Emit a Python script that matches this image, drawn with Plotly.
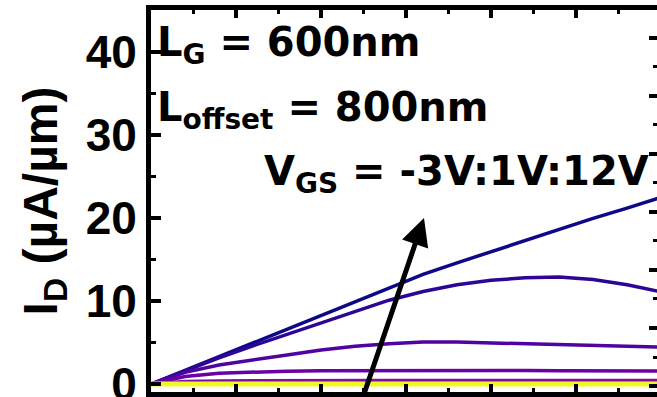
import plotly.graph_objects as go
from plotly.colors import sample_colorscale

# ---------------- data ----------------
vds = [0, 2, 4, 6, 8, 10, 12, 14, 16, 18, 20, 22, 24, 26, 28, 30]
vgs_values = list(range(-3, 13))  # -3V : 1V : 12V

id_vgs12 = [0, 1.65, 3.3, 4.95, 6.6, 8.25, 9.9, 11.6, 13.2, 14.6, 15.95, 17.3, 18.65, 19.95, 21.2, 22.5]
id_vgs11 = [0, 1.6, 3.15, 4.6, 5.95, 7.35, 8.75, 10.1, 11.15, 11.95, 12.5, 12.8, 12.9, 12.6, 11.95, 11.1]
id_vgs10 = [0, 1.4, 2.3, 2.95, 3.5, 4.1, 4.55, 4.85, 5.05, 5.05, 4.95, 4.85, 4.75, 4.6, 4.5, 4.45]
id_vgs9 = [0, 0.9, 1.3, 1.45, 1.55, 1.6, 1.62, 1.63, 1.63, 1.63, 1.62, 1.62, 1.61, 1.6, 1.6, 1.58]
id_vgs8 = [0, 0.3, 0.38, 0.41, 0.42, 0.43, 0.43, 0.43, 0.43, 0.43, 0.43, 0.43, 0.43, 0.43, 0.43, 0.43]
id_vgs7 = [0, 0.06, 0.08, 0.09, 0.09, 0.09, 0.09, 0.09, 0.09, 0.09, 0.09, 0.09, 0.09, 0.09, 0.09, 0.09]
id_vgs6 = [0, 0.01, 0.015, 0.02, 0.02, 0.02, 0.02, 0.02, 0.02, 0.02, 0.02, 0.02, 0.02, 0.02, 0.02, 0.02]
id_low = [0] * 16  # VGS = -3 ... 5 : essentially zero current

currents = {
    12: id_vgs12, 11: id_vgs11, 10: id_vgs10, 9: id_vgs9, 8: id_vgs8,
    7: id_vgs7, 6: id_vgs6,
}

colors = sample_colorscale("Plasma", [i / 15 for i in range(16)])  # index 0 -> VGS=12

fig = go.Figure()
for k, vg in enumerate(sorted(vgs_values, reverse=True)):
    y = currents.get(vg, id_low)
    fig.add_trace(go.Scatter(
        x=vds, y=y, mode="lines",
        line=dict(color=colors[k], width=5 if vg == -3 else 3.5),
        showlegend=False, hoverinfo="skip",
    ))

# invisible trace so the right-side mirrored axis is drawn
fig.add_trace(go.Scatter(x=[None], y=[None], yaxis="y2", mode="lines",
                         showlegend=False, hoverinfo="skip"))

W, H = 657, 397
L, R, T, B = 151, 0, 10, 5
pw, ph = W - L - R, H - T - B


def px(xp):
    return (xp - L) / pw


def py(yp):
    return (H - B - yp) / ph


bold_tick = dict(family="Liberation Sans, Arial", size=46, color="black", weight="bold")
bold_title = dict(family="Liberation Sans, Arial", size=48, color="black", weight="bold")
ann_font = dict(family="DejaVu Sans", size=40, color="black", weight="bold")

fig.update_layout(
    width=W, height=H,
    margin=dict(l=L, r=R, t=T, b=B, pad=0, autoexpand=False),
    paper_bgcolor="white", plot_bgcolor="white",
    showlegend=False,
    xaxis=dict(
        range=[0, 29.76], showgrid=False, zeroline=False, automargin=False,
        showline=True, linewidth=5, linecolor="black", mirror="ticks",
        ticks="inside", ticklen=8, tickwidth=4, tickcolor="black",
        tick0=0, dtick=5, showticklabels=False,
        minor=dict(ticks="inside", ticklen=4, tickwidth=3, tickcolor="black", dtick=2.5, showgrid=False),
    ),
    yaxis=dict(
        range=[-0.96, 45.06], showgrid=False, zeroline=False, automargin=False,
        showline=True, linewidth=5, linecolor="black",
        ticks="inside", ticklen=10, tickwidth=4, tickcolor="black",
        tick0=0, dtick=10, tickfont=bold_tick, ticklabeloverflow="allow",
        minor=dict(ticks="inside", ticklen=5, tickwidth=3, tickcolor="black", dtick=5, showgrid=False),
        title=dict(text="I<sub>D</sub> (µA/µm)", font=bold_title, standoff=14),
    ),
    yaxis2=dict(
        overlaying="y", side="right", anchor="x", automargin=False,
        range=[-0.103, 6.48], showgrid=False, zeroline=False, showline=False,
        ticks="inside", ticklen=8, tickwidth=4, tickcolor="black",
        tick0=0, dtick=1, showticklabels=False,
        minor=dict(ticks="inside", ticklen=4, tickwidth=3, tickcolor="black", dtick=0.5, showgrid=False),
    ),
    annotations=[
        dict(text="L<sub>G</sub> = 600nm", xref="paper", yref="paper",
             x=px(155), y=py(17), xanchor="left", yanchor="top",
             showarrow=False, font=ann_font),
        dict(text="L<sub>offset</sub> = 800nm", xref="paper", yref="paper",
             x=px(155), y=py(82), xanchor="left", yanchor="top",
             showarrow=False, font=ann_font),
        dict(text="V<sub>GS</sub> = -3V:1V:12V", xref="paper", yref="paper",
             x=px(262), y=py(146), xanchor="left", yanchor="top",
             showarrow=False, font=ann_font),
        dict(text="", xref="paper", yref="paper", x=px(424), y=py(218),
             ax=-61, ay=182, showarrow=True, arrowhead=2, arrowwidth=5,
             arrowsize=1.1, arrowcolor="black", standoff=0),
    ],
)

fig.write_html("out.html")
